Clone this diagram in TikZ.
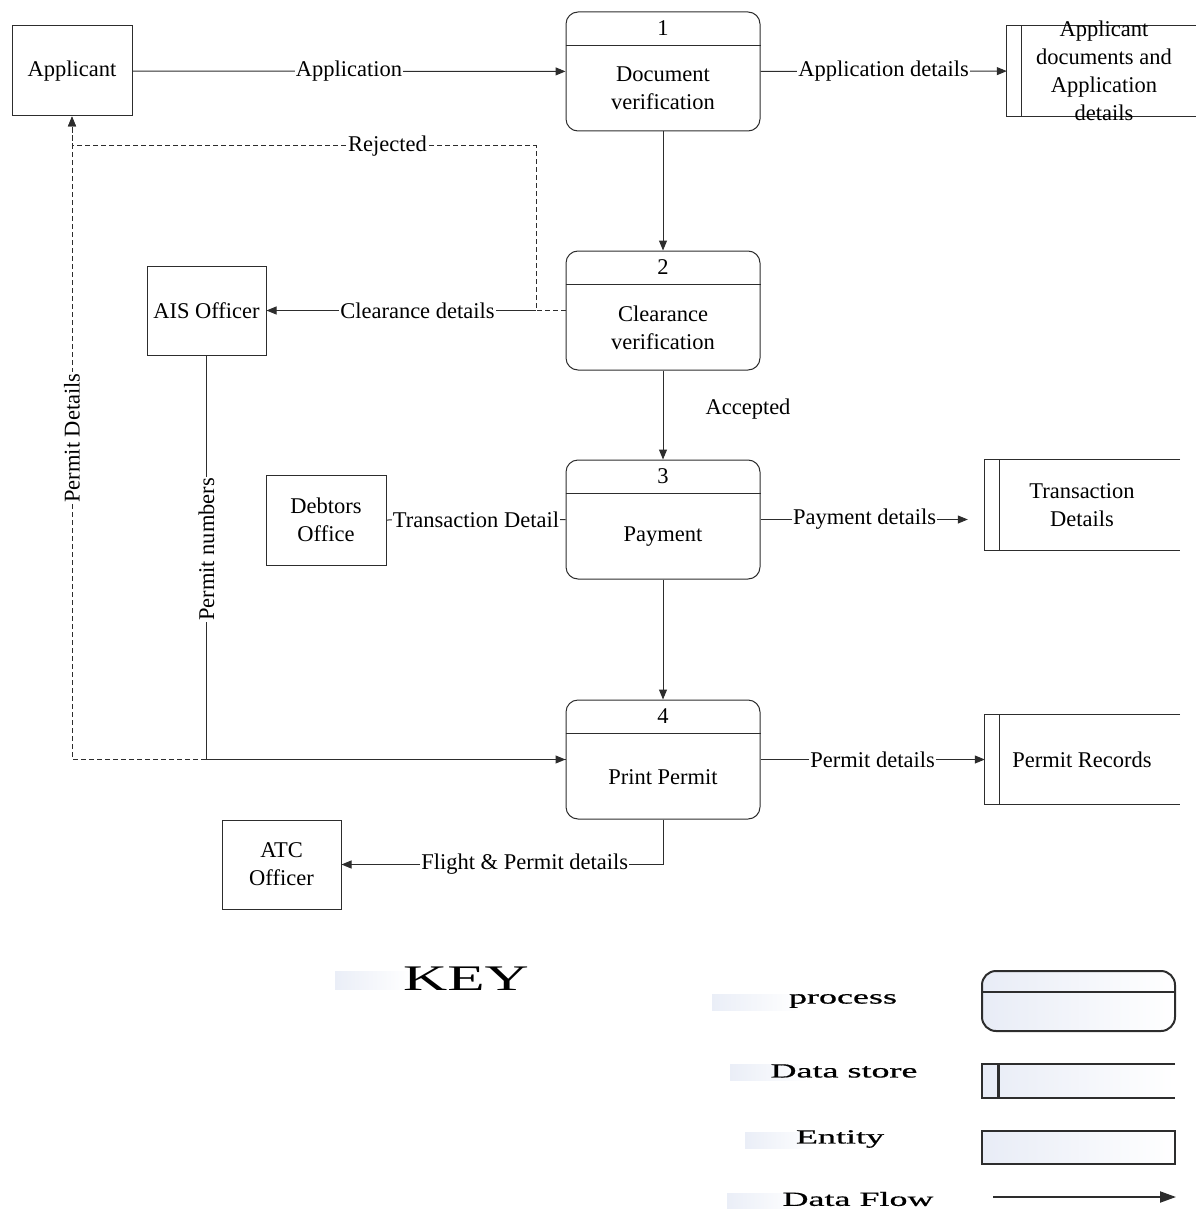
\documentclass[tikz,border=0pt]{standalone}
\usepackage{fontspec}
\setmainfont{Liberation Serif}
\newfontfamily\keyfont[FakeBold=0.6]{Liberation Serif}
\usetikzlibrary{arrows.meta}
\definecolor{ln}{RGB}{45,45,45}
\definecolor{keybar}{RGB}{234,238,247}
\definecolor{keyfill}{RGB}{232,236,246}
\begin{document}
\begin{tikzpicture}[x=1pt,y=-1pt,
  txt/.style={font=\fontsize{22.5}{28}\selectfont, align=center, inner sep=0pt, text=black},
  lbl/.style={txt, fill=white, inner sep=1pt},
  ent/.style={txt, draw=ln, line width=1pt, minimum width=120pt, minimum height=90pt},
  proc/.style={draw=ln, line width=1pt, rounded corners=12pt, minimum width=194pt, minimum height=119pt, inner sep=0pt},
  store/.style={minimum width=195pt, minimum height=90pt, inner sep=0pt},
  plain/.style={draw=ln, line width=1pt},
  flow/.style={plain, -{Triangle[length=10pt,width=8pt]}},
  dflow/.style={flow, dash pattern=on 5pt off 3pt},
  keytxt/.style={font=\keyfont\fontsize{20}{24}\selectfont, inner sep=0pt},
  keyline/.style={draw=ln, line width=2pt},
]
\useasboundingbox (0,0) rectangle (1195,1209);

% ---------- entities ----------
\node[ent] (app) at (72,71) {Applicant};
\node[ent, minimum width=119pt, minimum height=89pt] (ais) at (206.5,310.5) {AIS Officer};
\node[ent] (deb) at (326,520) {Debtors\\Office};
\node[ent, minimum width=119pt, minimum height=89pt] (atc) at (281.5,864.5) {ATC\\Officer};

% ---------- processes ----------
\foreach \n/\y in {1/71.5, 2/310.5, 3/519.5, 4/759.5} {
  \node[proc] (p\n) at (663,\y) {};
  \draw[plain] ([yshift=-34pt]p\n.north west) -- ([yshift=-34pt]p\n.north east);
  \node[txt] (p\n num) at (663,\y-43.5) {\n};
}
\node[txt] (p1t) at (663,88.5) {Document\\verification};
\node[txt] (p2t) at (663,327.5) {Clearance\\verification};
\node[txt] (p3t) at (663,537) {Payment};
\node[txt] (p4t) at (663,777) {Print Permit};

% ---------- data stores ----------
\node[store, minimum width=193pt] (ds1) at (1103.5,71) {};
\node[store] (ds2) at (1082.5,505) {};
\node[store, minimum height=89pt] (ds3) at (1082.5,759.5) {};
\foreach \s in {ds1,ds2,ds3} {
  \draw[plain] (\s.north east) -- (\s.north west) -- (\s.south west) -- (\s.south east);
  \draw[plain] ([xshift=15pt]\s.north west) -- ([xshift=15pt]\s.south west);
}
\node[txt] (ds1t) at (1104,71) {Applicant\\documents and\\Application\\details};
\node[txt] (ds2t) at (1082,505) {Transaction\\Details};
\node[txt] (ds3t) at (1082,760) {Permit Records};

% ---------- bend coordinates ----------
\coordinate (rj0) at (536,310.5);
\coordinate (rj1) at (536,146);
\coordinate (rj2) at (72,146);
\coordinate (pd1) at (72,759.5);
\coordinate (pn1) at (206.5,759.5);
\coordinate (fp1) at (663,864.5);

% ---------- flows ----------
\draw[flow] (app) -- node[lbl]{Application} (p1);
\draw[flow] (p1) -- node[lbl]{Application details} (ds1);
\draw[flow] (p1) -- (p2);
\draw[flow] (rj0) -- node[lbl, pos=0.44]{Clearance details} (ais.east);
\draw[dflow] (p2.west) -- (rj0) -- (rj1) -- node[lbl, pos=0.32]{Rejected} (rj2) -- (app.south);
\draw[flow] (p2) -- (p3);
\node[txt] (acc) at (748,409) {Accepted};
\draw[plain] (deb.east) -- node[lbl]{Transaction Detail} (p3.west);
\draw[flow, shorten >=17pt] (p3.east) -- node[lbl, xshift=-8pt]{Payment details} (ds2.west |- p3.east);
\draw[flow] (p3) -- (p4);
\draw[flow] (p4.east) -- node[lbl]{Permit details} (ds3.west);
\draw[dflow] (p4.west) -- (pd1) -- node[lbl, rotate=90]{Permit Details} (app.south);
\draw[flow] (ais.south) -- node[lbl, rotate=90, pos=0.48]{Permit numbers} (pn1) -- (p4.west);
\draw[flow] (p4.south) -- (fp1) -- node[lbl, pos=0.43]{Flight \& Permit details} (atc.east);

% ---------- key ----------
\shade[left color=keybar, right color=white] (335,971) rectangle (410,989);
\node[inner sep=0pt] (key) at (466,979) {\scalebox{1.7}[1]{\fontsize{36}{36}\selectfont KEY}};

\shade[left color=keybar, right color=white] (712,994) rectangle (800,1010);
\node[keytxt] (kproc) at (843,1001) {\scalebox{1.8}[1]{process}};
\draw[keyline, rounded corners=14pt, left color=keyfill, right color=white] (982,971) rectangle (1175,1031);
\draw[keyline] (982,991.5) -- (1175,991.5);

\shade[left color=keybar, right color=white] (730,1064) rectangle (810,1080);
\node[keytxt] (kstore) at (844,1071) {\scalebox{1.8}[1]{Data store}};
\shade[left color=keyfill, right color=white] (982,1064) rectangle (1175,1098);
\draw[keyline] (1175,1064) -- (982,1064) -- (982,1098) -- (1175,1098);
\draw[draw=ln, line width=3pt] (998,1064) -- (998,1098);

\shade[left color=keybar, right color=white] (745,1132) rectangle (815,1148);
\node[keytxt] (kent) at (840,1139) {\scalebox{1.8}[1]{Entity}};
\draw[keyline, left color=keyfill, right color=white] (982,1131) rectangle (1175,1164);

\shade[left color=keybar, right color=white] (727,1193) rectangle (800,1209);
\node[keytxt] (kflow) at (858,1199) {\scalebox{1.8}[1]{Data Flow}};
\coordinate (kf0) at (993,1197);
\coordinate (kf1) at (1176,1197);
\draw[draw=ln, line width=2pt, -{Triangle[length=16pt,width=11pt]}] (kf0) -- (kf1);
\end{tikzpicture}
\end{document}
